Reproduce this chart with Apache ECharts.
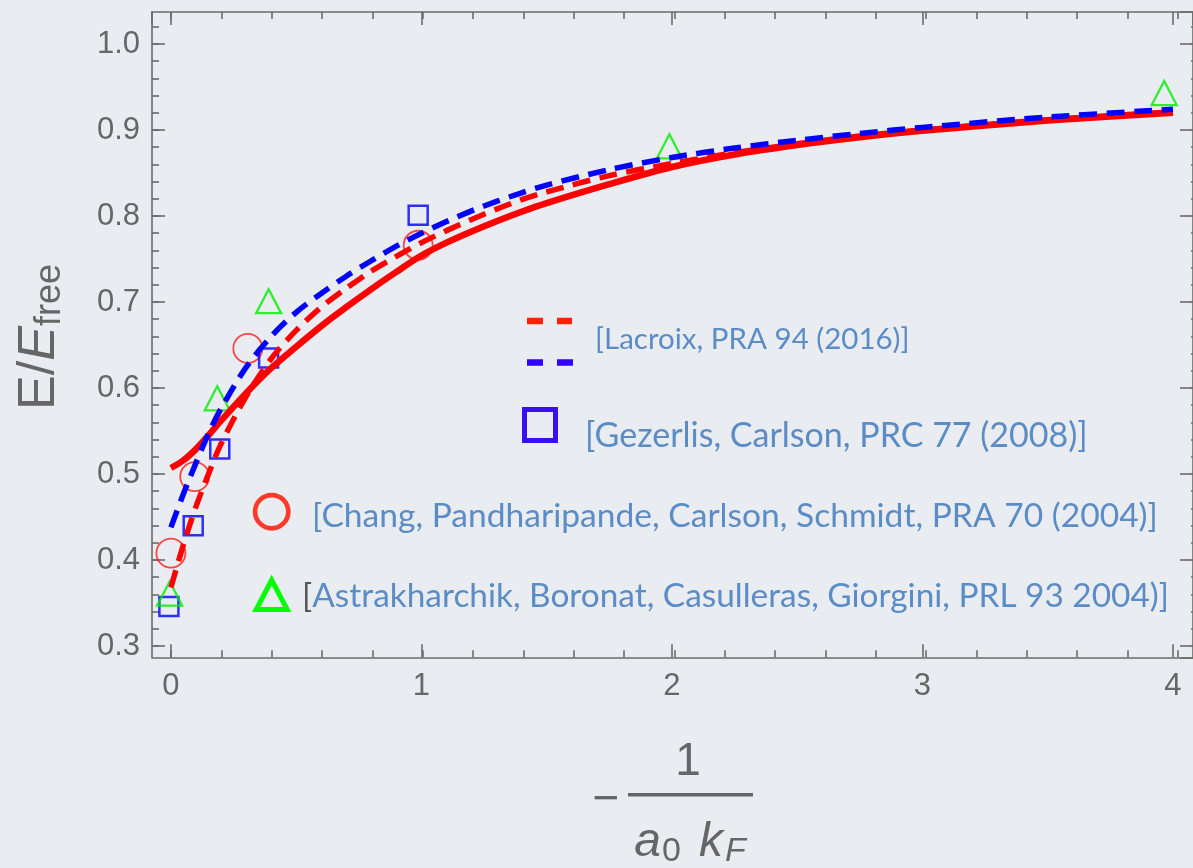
<!DOCTYPE html>
<html><head><meta charset="utf-8">
<script src="https://cdn.jsdelivr.net/npm/echarts@6/dist/echarts.min.js"></script>
<style>html,body{margin:0;padding:0;background:#e9ecf0;}#c{width:1193px;height:868px;}</style>
</head><body><div id="c"></div>
<script>
// ---- data ----
const curveX = [0, 0.05, 0.1, 0.15, 0.2, 0.3, 0.4, 0.5, 0.6, 0.7, 0.8, 0.9, 1.0, 1.1, 1.2, 1.3, 1.4, 1.5, 1.75, 2.0, 2.25, 2.5, 2.75, 3.0, 3.5, 4.0];
const solidRed   = [0.507, 0.516, 0.529, 0.545, 0.562, 0.594, 0.623, 0.648, 0.672, 0.694, 0.715, 0.735, 0.754, 0.769, 0.782, 0.794, 0.805, 0.815, 0.837, 0.857, 0.8715, 0.8825, 0.8915, 0.899, 0.911, 0.920];
const lacroixRed = [0.368, 0.418, 0.462, 0.500, 0.535, 0.590, 0.634, 0.667, 0.694, 0.716, 0.736, 0.753, 0.769, 0.783, 0.796, 0.808, 0.819, 0.828, 0.847, 0.861, 0.8735, 0.884, 0.893, 0.900, 0.912, 0.921];
const lacroixBlue= [0.438, 0.477, 0.513, 0.547, 0.576, 0.624, 0.660, 0.688, 0.710, 0.730, 0.748, 0.765, 0.780, 0.7935, 0.806, 0.817, 0.827, 0.836, 0.854, 0.868, 0.879, 0.888, 0.896, 0.903, 0.915, 0.924];

const changX = [0.0, 0.095, 0.307, 0.987];
const changY = [0.408, 0.497, 0.646, 0.766];
const gezerlisX = [-0.008, 0.089, 0.195, 0.39, 0.987];
const gezerlisY = [0.346, 0.440, 0.529, 0.635, 0.801];
const astraX = [-0.005, 0.185, 0.39, 1.99, 3.965];
const astraY = [0.361, 0.588, 0.701, 0.881, 0.943];

const legendTexts = [
  '[Lacroix, PRA 94 (2016)]',
  '[Gezerlis, Carlson, PRC 77 (2008)]',
  '[Chang, Pandharipande, Carlson, Schmidt, PRA 70 (2004)]',
  'Astrakharchik, Boronat, Casulleras, Giorgini, PRL 93 2004)]'
];

// ---- chart ----
const zip = (xs, ys) => xs.map((x, i) => [x, ys[i]]);
const AX = '#6b6b6b';
const tickFont = {fontFamily: 'Liberation Sans, Arial, sans-serif', fontSize: 31, color: '#666'};
const TXT = '#5b8cc6';
const LEG = 'Lato, "Open Sans", sans-serif';

const majorAxisX = (pos) => ({
  type: 'value', gridIndex: 0, position: pos, min: -0.0755, max: 4.08, splitNumber: 5,
  axisLine: {onZero: false, lineStyle: {color: AX, width: 1.6}},
  axisTick: {inside: true, length: 13, lineStyle: {color: AX, width: 1.6}},
  axisLabel: pos === 'bottom' ? Object.assign({showMinLabel: false, showMaxLabel: false, margin: 14}, tickFont) : {show: false},
  splitLine: {show: false}
});
const minorAxisX = (pos, off) => ({
  type: 'value', gridIndex: 1, position: pos, offset: off, min: 0, max: 4, interval: 0.2,
  axisLine: {show: false, onZero: false},
  axisTick: {inside: true, length: 7, lineStyle: {color: AX, width: 1.6}},
  axisLabel: {show: false}, splitLine: {show: false}
});
const majorAxisY = (pos) => ({
  type: 'value', gridIndex: 0, position: pos, min: 0.2869, max: 1.0372, splitNumber: 7,
  axisLine: {onZero: false, lineStyle: {color: AX, width: 1.6}},
  axisTick: {inside: true, length: 13, lineStyle: {color: AX, width: 1.6}},
  axisLabel: pos === 'left' ? Object.assign({showMinLabel: false, showMaxLabel: false, margin: 12,
    formatter: v => v.toFixed(1)}, tickFont) : {show: false},
  splitLine: {show: false}
});
const minorAxisY = (pos, off) => ({
  type: 'value', gridIndex: 1, position: pos, offset: off, min: 0.3, max: 1.02, interval: 0.02,
  axisLine: {show: false, onZero: false},
  axisTick: {inside: true, length: 7, lineStyle: {color: AX, width: 1.6}},
  axisLabel: {show: false}, splitLine: {show: false}
});

const hollow = (c, w) => ({color: 'rgba(0,0,0,0)', borderColor: c, borderWidth: w});

const option = {
  backgroundColor: '#e9ecf0',
  animation: false,
  grid: [
    {left: 152, top: 12, right: -5, bottom: 210.7},
    {left: 171, top: 26.8, right: 15.2, bottom: 222}
  ],
  xAxis: [majorAxisX('bottom'), majorAxisX('top'), minorAxisX('bottom', 11.3), minorAxisX('top', 14.8)],
  yAxis: [majorAxisY('left'), majorAxisY('right'), minorAxisY('left', 19), minorAxisY('right', 20.2)],
  series: [
    {type: 'scatter', name: legendTexts[2], data: zip(changX, changY), symbol: 'circle', symbolSize: 29,
     itemStyle: hollow('#ff1a1a', 1.8), z: 2, emphasis: {disabled: true}},
    {type: 'scatter', name: legendTexts[1], data: zip(gezerlisX, gezerlisY), symbol: 'rect', symbolSize: 19,
     itemStyle: hollow('#0000ff', 2.5), z: 2, emphasis: {disabled: true}},
    {type: 'scatter', name: legendTexts[3], data: zip(astraX, astraY), symbol: 'triangle', symbolSize: [25, 24],
     itemStyle: hollow('#00ee00', 2.3), z: 2, emphasis: {disabled: true}},
    {type: 'line', name: 'solid', data: zip(curveX, solidRed), symbol: 'none', smooth: 0.3,
     lineStyle: {color: '#ff0000', width: 6.5}, z: 3, emphasis: {disabled: true}},
    {type: 'line', name: 'Lacroix red', data: zip(curveX, lacroixRed), symbol: 'none', smooth: 0.3,
     lineStyle: {color: '#ff0000', width: 5.5, type: [18, 9.5]}, z: 4, emphasis: {disabled: true}},
    {type: 'line', name: 'Lacroix blue', data: zip(curveX, lacroixBlue), symbol: 'none', smooth: 0.3,
     lineStyle: {color: '#0000ff', width: 5.5, type: [18, 9.5]}, z: 5, emphasis: {disabled: true}}
  ],
  graphic: [
    // y-axis title
    {type: 'text', x: 40, y: 337, rotation: Math.PI / 2, style: {
      text: '{n|E/}{i|E}{s|free}', align: 'center', verticalAlign: 'middle',
      rich: {
        n: {fontSize: 52, fontFamily: 'Liberation Sans', fill: '#666', lineHeight: 56},
        i: {fontSize: 52, fontFamily: 'Liberation Sans', fontStyle: 'italic', fill: '#666', lineHeight: 56},
        s: {fontSize: 36, fontFamily: 'Liberation Sans', fill: '#666', verticalAlign: 'bottom', lineHeight: 40, padding: [14, 0, 0, 0]}
      }}},
    // x-axis title: - 1/(a0 kF)
    {type: 'text', x: 606, y: 800, style: {text: '−', fontSize: 46, fontFamily: 'Liberation Sans', fill: '#666', align: 'center', verticalAlign: 'middle'}},
    {type: 'rect', shape: {x: 628, y: 793, width: 125, height: 3.5}, style: {fill: '#666'}},
    {type: 'text', x: 688, y: 762, style: {text: '1', fontSize: 46, fontFamily: 'Liberation Sans', fill: '#666', align: 'center', verticalAlign: 'middle'}},
    {type: 'text', x: 690, y: 843, style: {
      text: '{i|a}{s|0}{i|k}{si|F}', align: 'center', verticalAlign: 'middle',
      rich: {
        i: {fontSize: 48, fontFamily: 'Liberation Sans', fontStyle: 'italic', fill: '#666', lineHeight: 52},
        s: {fontSize: 34, fontFamily: 'Liberation Sans', fill: '#666', verticalAlign: 'bottom', lineHeight: 36, padding: [16, 18, 0, 1]},
        si: {fontSize: 34, fontFamily: 'Liberation Sans', fontStyle: 'italic', fill: '#666', verticalAlign: 'bottom', lineHeight: 36, padding: [16, 0, 0, 2]}
      }}},
    // legend: Lacroix dashes
    {type: 'line', shape: {x1: 527, y1: 321, x2: 572, y2: 321}, style: {stroke: '#ff2200', lineWidth: 6.5, lineDash: [16, 14]}},
    {type: 'line', shape: {x1: 527, y1: 362.5, x2: 574, y2: 362.5}, style: {stroke: '#3300ff', lineWidth: 6.5, lineDash: [16, 14]}},
    {type: 'text', x: 595, y: 339, style: {text: legendTexts[0], fontSize: 29.5, fontFamily: LEG, fill: TXT, align: 'left', verticalAlign: 'middle'}},
    // legend: Gezerlis square
    {type: 'rect', shape: {x: 524.5, y: 409.5, width: 31, height: 31}, style: {fill: 'none', stroke: '#3a10f0', lineWidth: 5}},
    {type: 'text', x: 585, y: 436, style: {text: legendTexts[1], fontSize: 34, fontFamily: LEG, fill: TXT, align: 'left', verticalAlign: 'middle'}},
    // legend: Chang circle
    {type: 'circle', shape: {cx: 271.7, cy: 511.7, r: 16.6}, style: {fill: 'none', stroke: '#ff3a2a', lineWidth: 4.7}},
    {type: 'text', x: 312, y: 516, style: {text: legendTexts[2], fontSize: 33.6, fontFamily: LEG, fill: TXT, align: 'left', verticalAlign: 'middle'}},
    // legend: Astrakharchik triangle
    {type: 'polygon', shape: {points: [[271.7, 580], [256.2, 609.5], [287.2, 609.5]]}, style: {fill: 'none', stroke: '#00ff00', lineWidth: 5, lineJoin: 'miter'}},
    {type: 'text', x: 302, y: 596, style: {text: '{g|[}{b|' + legendTexts[3] + '}', align: 'left', verticalAlign: 'middle',
      rich: {g: {fontSize: 33.4, fontFamily: LEG, fill: '#555'}, b: {fontSize: 33.4, fontFamily: LEG, fill: TXT}}}}
  ]
};
const chart = echarts.init(document.getElementById('c'), null, {renderer: 'canvas'});
chart.setOption(option);
</script>
</body></html>
